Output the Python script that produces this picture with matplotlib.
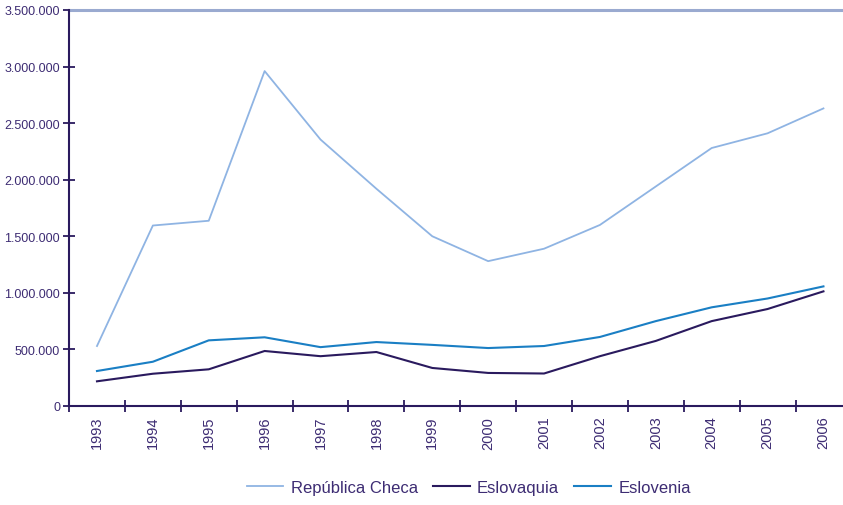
import matplotlib
matplotlib.use("Agg")
import matplotlib.pyplot as plt
from matplotlib.ticker import FuncFormatter, FixedLocator

years = ["1993", "1994", "1995", "1996", "1997", "1998", "1999",
         "2000", "2001", "2002", "2003", "2004", "2005", "2006"]
checa = [530000, 1595000, 1637000, 2960000, 2355000, 1920000, 1500000,
         1280000, 1390000, 1600000, 1940000, 2280000, 2410000, 2630000]
eslovaquia = [218000, 285000, 324000, 486000, 440000, 477000, 336000,
              292000, 287000, 440000, 575000, 750000, 857000, 1013000]
eslovenia = [309000, 391000, 580000, 607000, 520000, 565000, 540000,
             512000, 530000, 610000, 750000, 872000, 950000, 1057000]

txt = "#3d2c73"
axis_col = "#2a1a5e"
plt.rcParams['font.family'] = ['Liberation Sans', 'DejaVu Sans']

fig = plt.figure(figsize=(8.43, 5.06), dpi=100)
ax = fig.add_axes([0.0819, 0.1957, 0.9181, 0.7826])

x = list(range(len(years)))
ax.plot(x, checa, color="#8fb4e3", lw=1.3, label="República Checa")
ax.plot(x, eslovaquia, color="#2a1a5e", lw=1.5, label="Eslovaquia")
ax.plot(x, eslovenia, color="#1a7fc4", lw=1.5, label="Eslovenia")

ax.set_ylim(0, 3500000)
ax.set_xlim(-0.5, 13.35)
ax.set_yticks(range(0, 3500001, 500000))
ax.yaxis.set_major_formatter(FuncFormatter(lambda v, p: f"{int(v):,}".replace(",", ".")))
ax.axhline(3500000, color="#9aaad0", lw=2.2, clip_on=False)

# ticks between categories, labels at category centres
ax.xaxis.set_major_locator(FixedLocator([i - 0.5 for i in range(len(years))]))
ax.xaxis.set_minor_locator(FixedLocator(x))
ax.set_xticklabels([])
ax.set_xticklabels(years, minor=True, rotation=90)
ax.tick_params(axis='x', which='minor', length=0, pad=7, labelsize=10.5, labelcolor=txt)
ax.tick_params(axis='x', which='major', direction='inout', length=9, width=1.3, color=axis_col)
ax.tick_params(axis='y', direction='inout', length=9, width=1.3, color=axis_col,
               labelsize=9, labelcolor=txt, pad=2)

for s in ['top', 'right']:
    ax.spines[s].set_visible(False)
for s in ['left', 'bottom']:
    ax.spines[s].set_color(axis_col)
    ax.spines[s].set_linewidth(1.5)

leg = fig.legend(loc='center', bbox_to_anchor=(0.556, 0.034), ncol=3, frameon=False,
                 fontsize=12, handlelength=2.2, columnspacing=0.9, handletextpad=0.45)
for t in leg.get_texts():
    t.set_color(txt)

fig.savefig("out.png", dpi=100)
